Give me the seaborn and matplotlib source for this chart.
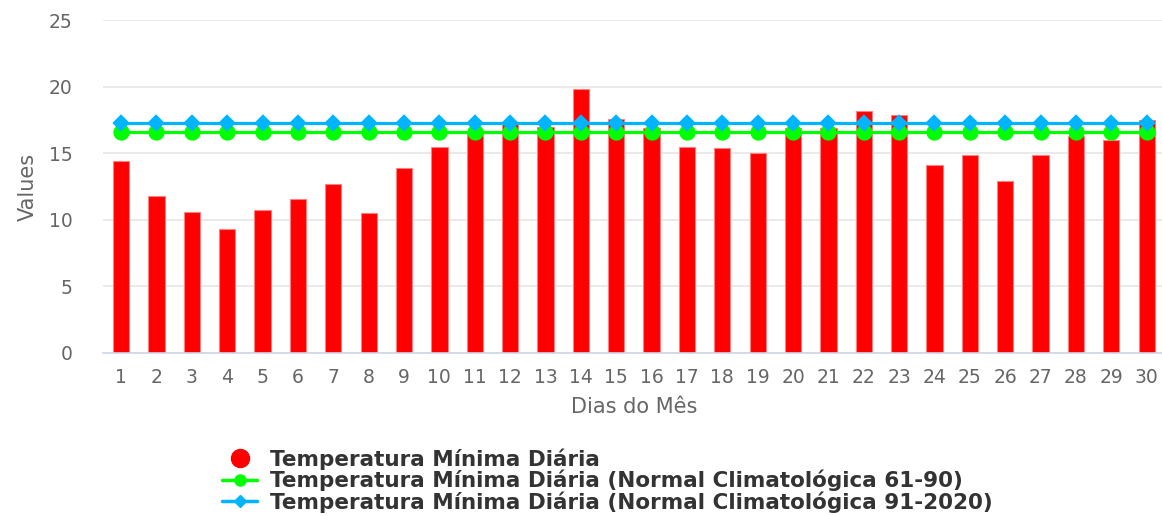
"""Daily minimum temperature vs climatological normals."""
import pandas as pd
import matplotlib.pyplot as plt
from matplotlib.lines import Line2D
import seaborn as sns

# data
days = [str(d) for d in range(1, 31)]
tmin = [14.4, 11.8, 10.6, 9.3, 10.7, 11.6, 12.7, 10.5, 13.9, 15.5,
        16.5, 17.2, 17.0, 19.8, 17.6, 16.9, 15.5, 15.4, 15.0, 16.9,
        16.9, 18.2, 17.9, 14.1, 14.9, 12.9, 14.9, 16.3, 16.0, 17.5]
normal_6190 = [16.6] * 30
normal_9120 = [17.3] * 30

labels = ["Temperatura Mínima Diária",
          "Temperatura Mínima Diária (Normal Climatológica 61-90)",
          "Temperatura Mínima Diária (Normal Climatológica 91-2020)"]

df = pd.DataFrame({"day": days, "tmin": tmin,
                   "n6190": normal_6190, "n9120": normal_9120})

sns.set_style("white")
plt.rcParams['font.family'] = ['DejaVu Sans']

fig = plt.figure(figsize=(11.62, 5.16), dpi=100)
ax = fig.add_axes([0.089, 0.316, 0.913, 0.645])

sns.barplot(data=df, x="day", y="tmin", color="#ff0000", width=0.46,
            edgecolor="#ff8080", linewidth=0.8, saturation=1, ax=ax, zorder=2)
sns.pointplot(data=df, x="day", y="n6190", color="#00ff00", markers="o",
              markersize=10, linewidth=2.3, ax=ax, zorder=3)
sns.pointplot(data=df, x="day", y="n9120", color="#00b4ff", markers="D",
              markersize=7.5, linewidth=2.3, ax=ax, zorder=3)

ax.set_ylim(0, 25)
ax.set_xlim(-0.5, 29.5)
ax.set_yticks([0, 5, 10, 15, 20, 25])
ax.yaxis.grid(True, color="#e6e6e6", linewidth=1.2, zorder=0)
ax.set_axisbelow(True)
for side in ["top", "right", "left"]:
    ax.spines[side].set_visible(False)
ax.spines["bottom"].set_color("#ccd6eb")
ax.spines["bottom"].set_linewidth(1.2)
ax.tick_params(axis="both", length=0, labelsize=13.5, colors="#666666")
ax.tick_params(axis="x", pad=11)
ax.tick_params(axis="y", pad=22)
for t in ax.get_yticklabels():
    t.set_horizontalalignment("right")
ax.set_xlabel("Dias do Mês", fontsize=15, color="#666666", labelpad=7)
ax.set_ylabel("Values", fontsize=15, color="#666666", labelpad=8)

handles = [
    Line2D([], [], linestyle="none", marker="o", markersize=13,
           markerfacecolor="#ff0000", markeredgecolor="#ff0000"),
    Line2D([], [], color="#00ff00", linewidth=2.5, marker="o", markersize=8),
    Line2D([], [], color="#00b4ff", linewidth=2.5, marker="D", markersize=6),
]
leg = fig.legend(handles, labels, loc="upper left", bbox_to_anchor=(0.184, 0.148),
                 frameon=False, handlelength=1.6, handletextpad=0.6,
                 labelspacing=0.0, borderaxespad=0,
                 prop={"weight": "bold", "size": 15.5})
for t in leg.get_texts():
    t.set_color("#333333")

plt.savefig("out.png", dpi=100)
plt.close()
